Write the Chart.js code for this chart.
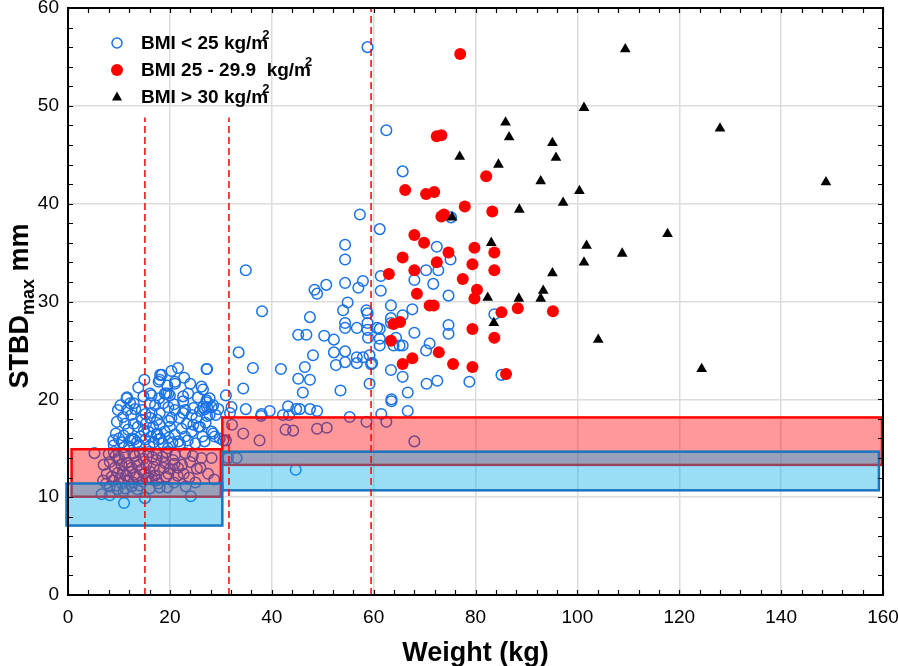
<!DOCTYPE html>
<html>
<head>
<meta charset="utf-8">
<script src="https://cdn.jsdelivr.net/npm/chart.js@4.4.0/dist/chart.umd.min.js"></script>
<style>
  html, body { margin: 0; padding: 0; background: #fff; }
</style>
</head>
<body>
<canvas id="chart" width="898" height="666"></canvas>
<script>
// ==============================
// data: [weight kg, STBDmax mm]
// ==============================
const bmiUnder25 = [
  [58.8,56.0],[62.5,47.5],[65.7,43.3],[57.3,38.9],[61.2,37.4],[75.2,38.6],[54.4,35.8],[72.4,35.6],
  [54.4,34.3],[75.1,34.3],[34.9,33.2],[70.3,33.2],[72.7,33.2],[61.4,32.6],[68.0,32.2],[71.7,31.8],
  [54.4,31.9],[57.9,32.1],[57.0,31.4],[61.4,31.1],[48.4,31.2],[48.9,30.8],[50.7,31.7],[74.7,30.6],
  [38.1,29.0],[54.9,29.9],[54.0,29.1],[58.6,29.1],[58.8,28.8],[63.4,29.6],[67.6,29.2],[65.7,28.6],
  [63.4,28.3],[63.4,27.8],[83.7,28.7],[47.5,28.4],[54.4,27.8],[54.4,27.3],[56.7,27.3],[58.8,27.8],
  [58.8,27.1],[60.7,27.3],[74.7,27.6],[74.7,26.7],[61.2,27.2],[61.2,26.2],[68.0,26.8],[45.2,26.6],
  [46.8,26.6],[50.3,26.5],[52.2,26.1],[58.9,26.3],[61.2,25.5],[64.4,26.3],[63.9,25.5],[65.1,25.5],
  [65.7,25.5],[71.0,25.7],[70.3,25.0],[33.5,24.8],[48.1,24.5],[52.2,24.8],[54.4,24.9],[54.4,23.8],
  [56.7,24.3],[56.7,23.7],[57.9,24.3],[59.2,24.5],[59.7,23.7],[52.6,23.5],[46.5,23.3],[36.3,23.2],
  [41.8,23.1],[27.3,23.1],[63.4,23.0],[59.5,23.6],[65.7,22.3],[70.4,21.6],[72.5,21.9],[78.8,21.8],
  [85.1,22.5],[45.2,22.1],[47.5,22.0],[59.2,21.6],[34.4,21.1],[46.1,20.7],[53.5,20.9],[31.0,20.4],
  [63.5,20.0],[63.5,19.8],[66.7,20.7],[66.7,18.8],[61.5,18.5],[55.3,18.2],[58.6,17.7],[43.2,19.3],
  [44.8,19.0],[45.5,19.0],[47.5,19.0],[48.9,18.8],[39.6,18.8],[38.0,18.5],[37.9,18.3],[42.2,18.4],
  [43.4,18.4],[34.9,19.0],[32.1,19.2],[31.8,18.6],
  [34.4,16.5],[37.6,15.8],[42.7,16.9],[44.2,16.8],[48.9,17.0],[50.8,17.1],[62.5,17.7],[68.0,15.7],
  [32.2,17.4],[30.5,15.8],[31.0,15.8],[31.4,14.0],[33.1,14.0],[44.7,12.8],
  [18.1,22.5],[17.8,21.8],[16.1,20.6],[11.6,20.2],[10.3,19.4],[12.2,19.6],[12.9,19.6],[9.8,18.9],
  [11.6,18.9],[14.5,18.9],[16.1,19.6],[9.6,17.7],[11.2,17.5],[12.9,17.5],[14.5,17.9],[16.1,18.1],
  [17.5,17.9],[9.4,16.5],[10.9,16.3],[12.6,16.0],[14.2,16.2],[15.8,16.7],[17.5,16.5],[10.6,15.6],
  [12.2,15.8],[13.5,15.6],[15.2,15.9],[16.8,15.6],[17.8,15.9],
  [21.6,23.2],[20.3,22.9],[18.4,22.5],[21.0,21.8],[27.2,23.1],[19.7,20.6],[19.0,20.6],[22.6,20.3],
  [26.2,21.3],[26.5,21.0],[27.2,19.9],[27.8,20.1],[28.2,19.2],[26.5,19.2],[24.6,19.1],[22.6,19.8],
  [21.0,18.9],[19.7,19.2],[18.0,18.6],[16.4,18.6],[18.7,19.6],[17.1,19.4],[24.3,18.4],[25.2,18.1],
  [21.9,18.1],[20.3,18.1],[23.3,17.5],[24.6,17.4],[25.6,17.2],[22.3,17.0],[20.0,17.2],[18.0,17.4],
  [16.7,17.2],[19.0,16.7],[17.4,16.4],[21.0,16.4],[24.3,16.7],[28.2,16.7],[28.8,16.2],[29.8,16.0],
  [27.3,19.2],[26.9,19.0],[27.8,18.4],[29.0,18.4],[27.3,18.3],[28.5,16.5],[25.9,17.2],[18.0,22.0],
  [20.0,20.4],[19.3,20.6],[21.0,21.6],[11.5,20.1],[16.4,20.4],[28.5,19.4],[27.2,19.7],
  [13.8,21.2],[15.0,22.0],[19.5,21.4],[22.8,22.2],[24.0,21.6],[25.5,20.2],[23.6,20.6],[14.8,20.3],
  [13.2,19.0],[12.4,18.4],[15.2,18.5],[17.9,20.1],[20.8,19.5],[23.0,18.9],[25.9,18.8],[29.5,19.0],
  [10.8,18.2],[13.7,17.2],[15.3,17.5],[19.8,17.8],[22.6,18.6],[26.4,16.2],[27.0,17.6],[23.0,16.2],
  [21.7,15.7],[19.8,16.1],[18.2,16.0],[14.9,16.8],[11.8,16.9],[10.0,16.0],[8.9,15.8],[13.0,15.9],
  [16.3,16.2],
  [9.0,14.6],[11.0,14.4],[12.8,14.5],[14.1,14.6],[15.8,14.6],[17.4,14.4],[19.3,14.6],[21.0,14.3],
  [23.0,14.5],[24.5,14.2],[26.2,14.0],[28.2,14.0],[5.2,14.5],
  [8.2,13.6],[9.9,13.8],[11.5,13.5],[13.5,13.6],[15.4,13.3],[17.4,13.8],[19.0,13.5],[20.6,13.8],
  [22.4,13.3],[24.0,13.6],
  [7.6,12.4],[9.2,13.0],[10.8,12.6],[12.5,13.0],[14.4,12.8],[16.1,12.6],[18.0,12.8],[19.7,12.4],
  [21.6,13.0],[22.7,12.4],[25.3,12.9],
  [6.9,11.7],[8.6,12.1],[10.2,11.9],[11.8,11.7],[13.5,12.1],[15.4,11.9],[17.4,11.7],[19.3,12.1],
  [20.8,11.5],[28.7,11.8],
  [8.2,11.1],[9.5,11.2],[11.2,10.9],[12.5,11.1],[14.1,11.2],[16.1,10.9],[17.7,11.4],[23.1,11.1],
  [6.6,10.3],[8.2,10.2],[11.0,9.4],[15.1,9.9],[24.1,10.1],
  [10.0,14.0],[12.0,13.2],[13.0,12.3],[14.8,13.9],[16.8,13.1],[18.5,14.1],[9.8,12.5],[11.4,12.2],
  [15.0,12.4],[17.0,12.2],[13.2,14.2],[10.5,13.3],[12.8,11.5],[14.6,11.6],[16.5,11.8],[18.8,13.0],
  [20.0,12.9],[21.5,12.2],[19.5,11.0],[8.8,11.7],[7.5,11.4],[9.3,14.2],[10.9,10.6],[13.6,10.8],
  [12.0,15.2],[14.0,15.3],[16.0,15.2],[18.6,15.5],[20.5,15.6],[22.0,15.4],[19.6,15.0],[11.0,15.1],
  [23.5,15.8],[25.0,15.5],[26.8,15.7],[9.0,15.3],
  [7.0,13.3],[8.0,14.4],[26.0,13.0],[27.5,12.4],[23.8,12.0],[25.0,11.5],[12.2,12.6],[16.6,14.1],
  [18.0,11.0],[13.9,13.3],[15.8,12.0],[10.6,11.4],[9.7,10.8],[20.9,13.4]
];

const bmi25to30 = [
  [77.0,55.3],[72.4,46.9],[73.3,47.0],[82.1,42.8],[66.2,41.4],[70.3,41.0],[71.9,41.2],[77.9,39.7],
  [83.3,39.2],[73.3,38.7],[73.8,38.9],[68.0,36.8],[69.9,36.0],[79.8,35.5],[83.7,35.0],[65.7,34.5],
  [74.7,35.0],[72.4,34.0],[79.4,33.8],[83.7,33.2],[68.0,33.2],[63.0,32.8],[77.5,32.3],[80.3,31.2],
  [68.5,30.8],[79.8,30.3],[71.0,29.6],[71.8,29.6],[88.3,29.3],[95.2,29.0],[85.1,28.9],[65.2,27.9],
  [63.9,27.7],[79.4,27.2],[63.4,26.0],[83.7,26.3],[72.8,24.8],[67.6,24.2],[65.7,23.6],[75.6,23.6],
  [79.4,23.3],[86.0,22.6]
];

const bmiOver30 = [
  [109.4,55.8],[128.0,47.7],[148.8,42.2],[117.7,36.9],[108.8,34.9],[124.4,23.1],[101.3,49.8],
  [85.9,48.3],[86.6,46.8],[95.1,46.2],[76.9,44.8],[95.8,44.7],[84.5,44.0],[92.8,42.3],[100.4,41.3],
  [97.2,40.1],[88.6,39.4],[75.4,38.6],[101.8,35.7],[83.1,36.0],[101.3,34.0],[95.1,32.9],[93.3,31.1],
  [92.8,30.3],[82.4,30.4],[88.5,30.3],[83.6,27.8],[104.1,26.1]
];

// reference ranges: [weight from, weight to, mm low, mm high]
const redBoxes = [[0.7, 30.0, 10.05, 14.9], [30.3, 159.8, 13.3, 18.15]];
const blueBoxes = [[-0.3, 30.3, 7.1, 11.4], [30.3, 159.2, 10.7, 14.65]];

// dashed weight cut-offs and how high they go
const cutWeights = [15.1, 31.6, 59.5];
const cutTops = [48.8, 48.8, 60];

const xTicks = [0, 20, 40, 60, 80, 100, 120, 140, 160];
const yTicks = [0, 10, 20, 30, 40, 50, 60];

const legendLabels = ["BMI < 25 kg/m", "BMI 25 - 29.9  kg/m", "BMI > 30 kg/m"];

const FONT = "'Liberation Sans', Arial, sans-serif";
const toXY = arr => arr.map(p => ({ x: p[0], y: p[1] }));

// ==============================
// overlay: boxes, cut-offs, frame, legend, titles
// ==============================
const overlay = {
  id: "overlay",
  afterDatasetsDraw(chart) {
    const { ctx, chartArea: a, scales: { x, y } } = chart;
    ctx.save();
    ctx.beginPath();
    ctx.rect(a.left - 3, a.top, a.right - a.left + 3, a.bottom - a.top);
    ctx.clip();

    const box = (b, fill, stroke) => {
      const l = x.getPixelForValue(b[0]), r = x.getPixelForValue(b[1]);
      const t = y.getPixelForValue(b[3]), bt = y.getPixelForValue(b[2]);
      ctx.fillStyle = fill;
      ctx.fillRect(l, t, r - l, bt - t);
      ctx.strokeStyle = stroke;
      ctx.lineWidth = 2.5;
      ctx.strokeRect(l, t, r - l, bt - t);
    };
    redBoxes.forEach(b => box(b, "rgba(255,0,0,0.4)", "#ff0000"));
    blueBoxes.forEach(b => box(b, "rgba(0,170,235,0.4)", "#1976c0"));

    ctx.setLineDash([7, 4]);
    ctx.strokeStyle = "#ff0000";
    ctx.lineWidth = 1.5;
    cutWeights.forEach((w, i) => {
      const px = x.getPixelForValue(w);
      ctx.beginPath();
      ctx.moveTo(px, y.getPixelForValue(0));
      ctx.lineTo(px, y.getPixelForValue(cutTops[i]));
      ctx.stroke();
    });
    ctx.restore();

    // frame + inward ticks
    ctx.save();
    ctx.strokeStyle = "#000";
    ctx.lineWidth = 2;
    ctx.strokeRect(a.left, a.top, a.right - a.left, a.bottom - a.top);
    ctx.lineWidth = 1.2;
    ctx.beginPath();
    for (let v = 0; v <= 60; v += 2) {
      const py = Math.round(y.getPixelForValue(v)) + 0.5;
      ctx.moveTo(a.left, py); ctx.lineTo(a.left + 5, py);
      ctx.moveTo(a.right, py); ctx.lineTo(a.right - 5, py);
    }
    for (let v = 0; v <= 160; v += 4) {
      const px = Math.round(x.getPixelForValue(v)) + 0.5;
      ctx.moveTo(px, a.bottom); ctx.lineTo(px, a.bottom - 5);
      ctx.moveTo(px, a.top); ctx.lineTo(px, a.top + 5);
    }
    ctx.stroke();

    // legend
    const lx = 117, rows = [43, 70, 97];
    ctx.lineWidth = 1.5;
    ctx.strokeStyle = "rgb(25,115,230)";
    ctx.beginPath(); ctx.arc(lx, rows[0], 5, 0, Math.PI * 2); ctx.stroke();
    ctx.fillStyle = "#ff0000";
    ctx.beginPath(); ctx.arc(lx, rows[1], 6, 0, Math.PI * 2); ctx.fill();
    ctx.fillStyle = "#000";
    ctx.beginPath();
    ctx.moveTo(lx, rows[2] - 5.5); ctx.lineTo(lx + 5, rows[2] + 3.5); ctx.lineTo(lx - 5, rows[2] + 3.5);
    ctx.closePath(); ctx.fill();

    ctx.textBaseline = "middle";
    ctx.textAlign = "left";
    legendLabels.forEach((t, i) => {
      ctx.font = "bold 19px " + FONT;
      ctx.fillText(t, 141, rows[i] + 1);
      const w = ctx.measureText(t).width;
      ctx.font = "bold 13px " + FONT;
      ctx.fillText("2", 141 + w - 6, rows[i] - 8);
    });

    // axis titles
    ctx.textAlign = "center";
    ctx.textBaseline = "alphabetic";
    ctx.font = "bold 27px " + FONT;
    ctx.fillText("Weight (kg)", (a.left + a.right) / 2, 661);

    ctx.translate(28, 306);
    ctx.rotate(-Math.PI / 2);
    const p1 = "STBD", p2 = "max", p3 = " mm";
    ctx.font = "bold 27px " + FONT;
    const w1 = ctx.measureText(p1).width, w3 = ctx.measureText(p3).width;
    ctx.font = "bold 18px " + FONT;
    const w2 = ctx.measureText(p2).width;
    const sx = -(w1 + w2 + w3) / 2;
    ctx.textAlign = "left";
    ctx.font = "bold 27px " + FONT;
    ctx.fillText(p1, sx, 0);
    ctx.font = "bold 18px " + FONT;
    ctx.fillText(p2, sx + w1, 6);
    ctx.font = "bold 27px " + FONT;
    ctx.fillText(p3, sx + w1 + w2, 0);
    ctx.restore();
  }
};

new Chart(document.getElementById("chart"), {
  type: "scatter",
  data: {
    datasets: [
      {
        label: "BMI < 25",
        data: toXY(bmiUnder25),
        pointStyle: "circle",
        pointRadius: 5.3,
        pointBorderWidth: 1.5,
        borderColor: "rgb(25,115,230)",
        backgroundColor: "rgba(0,0,0,0)",
        order: 3
      },
      {
        label: "BMI 25 - 29.9",
        data: toXY(bmi25to30),
        pointStyle: "circle",
        pointRadius: 6,
        pointBorderWidth: 0,
        borderColor: "#ff0000",
        backgroundColor: "#ff0000",
        order: 2
      },
      {
        label: "BMI > 30",
        data: toXY(bmiOver30),
        pointStyle: "triangle",
        pointRadius: 6.2,
        pointBorderWidth: 0,
        borderColor: "#000",
        backgroundColor: "#000",
        order: 1
      }
    ]
  },
  options: {
    responsive: false,
    animation: false,
    devicePixelRatio: 1,
    layout: { padding: { top: 8, right: 15, left: 0, bottom: 0 } },
    plugins: { legend: { display: false }, tooltip: { enabled: false } },
    scales: {
      x: {
        type: "linear",
        min: 0,
        max: 160,
        afterBuildTicks: s => { s.ticks = xTicks.map(v => ({ value: v })); },
        afterFit: s => { s.height = 71; s.paddingLeft = 0; s.paddingRight = 0; },
        ticks: { color: "#000", font: { size: 19, family: FONT }, padding: 11, maxRotation: 0 },
        grid: { color: "#dcdcdc", lineWidth: 1.5, drawTicks: false },
        border: { display: false }
      },
      y: {
        type: "linear",
        min: 0,
        max: 60,
        afterBuildTicks: s => { s.ticks = yTicks.map(v => ({ value: v })); },
        afterFit: s => { s.width = 68; s.paddingTop = 0; s.paddingBottom = 0; },
        ticks: { color: "#000", font: { size: 19, family: FONT }, padding: 9 },
        grid: { color: "#dcdcdc", lineWidth: 1.5, drawTicks: false },
        border: { display: false }
      }
    }
  },
  plugins: [overlay]
});
</script>
</body>
</html>
